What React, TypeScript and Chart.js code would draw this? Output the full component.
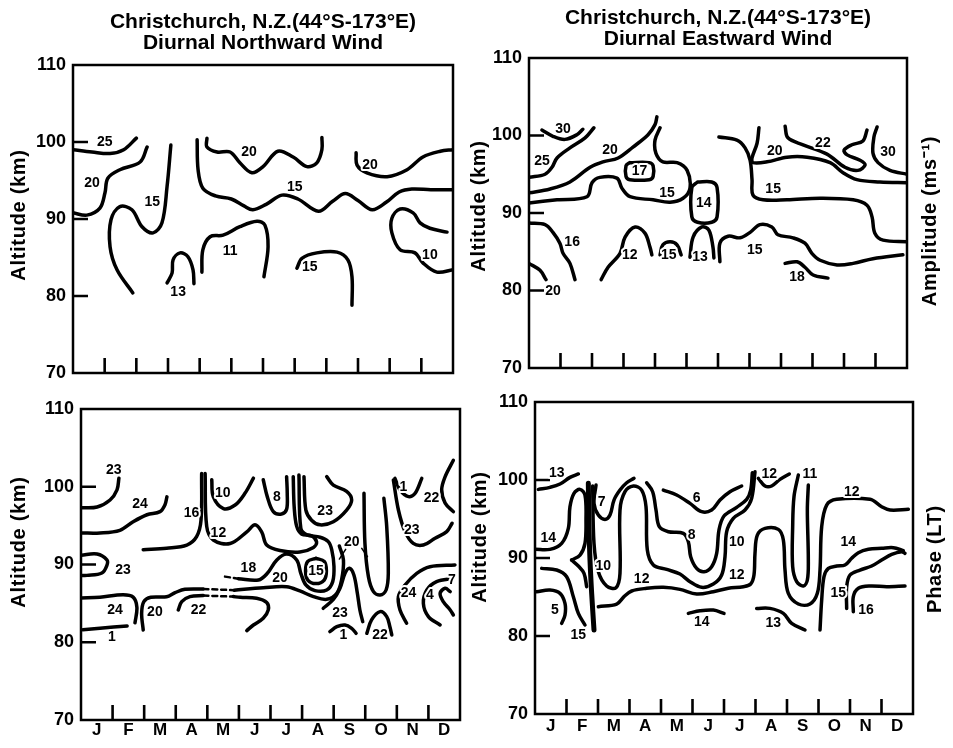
import React, { useEffect, useRef } from "react";
import { Chart, registerables } from "chart.js";

Chart.register(...registerables);

type Pt = [number, number];
type Lbl = [string, number, number];

const FONT = '"Liberation Sans", Arial, sans-serif';
Chart.defaults.font.family = FONT;

const MONTHS = ["J", "F", "M", "A", "M", "J", "J", "A", "S", "O", "N", "D"];
const ALT_TICKS = [70, 80, 90, 100, 110];
const INNER_ALT_TICKS = [80, 90, 100];
const MONTH_BOUNDS = [1, 2, 3, 4, 5, 6, 7, 8, 9, 10, 11];
const TITLE_PLACE = "Christchurch, N.Z.(44°S-173°E)";
const TITLE_NORTH = "Diurnal Northward Wind";
const TITLE_EAST = "Diurnal Eastward Wind";

// ---------- Top-left: northward wind amplitude ----------
const TL_25: Pt[] = [[0, 99.0], [0.6, 98.7], [1.17, 98.5], [1.6, 99.0], [2.0, 100.5]];
const TL_20A: Pt[] = [[2.34, 99.35], [2.12, 97.4], [1.48, 96.4], [1.1, 95.3], [1.01, 93.4], [0.85, 91.4], [0.44, 90.5], [0, 90.8]];
const TL_15A: Pt[] = [[3.09, 99.6], [2.97, 94.2], [2.81, 89.5], [2.53, 88.2], [2.18, 89.0], [1.86, 91.2], [1.48, 91.6], [1.2, 89.9], [1.17, 86.4], [1.39, 83.4], [1.89, 80.4]];
const TL_15B: Pt[] = [[3.92, 100.3], [3.95, 96.4], [4.1, 94.0], [4.5, 93.0], [5.0, 92.6], [5.4, 91.7], [5.68, 91.2], [6.1, 91.9], [6.6, 93.1], [7.1, 92.6], [7.75, 91.0], [8.2, 92.3], [8.6, 93.3], [9.0, 92.4], [9.45, 91.2], [9.9, 92.2], [10.3, 93.5], [10.7, 93.9], [11.3, 93.8], [12.0, 93.8]];
const TL_20B: Pt[] = [[4.23, 100.5], [4.23, 99.35], [4.55, 98.7], [4.96, 98.7], [5.27, 97.3], [5.65, 96.0], [6.0, 96.8], [6.47, 98.8], [6.95, 98.05], [7.39, 96.8], [7.7, 97.3], [7.86, 99.0], [7.86, 100.6]];
const TL_20C: Pt[] = [[8.94, 98.6], [8.97, 97.0], [9.28, 96.0], [9.92, 95.5], [10.55, 96.4], [11.05, 98.05], [11.6, 98.8], [12.0, 99.0]];
const TL_11: Pt[] = [[4.07, 83.1], [4.1, 86.0], [4.33, 87.7], [4.74, 87.9], [5.27, 89.0], [5.81, 89.7], [6.06, 89.2], [6.16, 86.4], [6.03, 82.5]];
const TL_13: Pt[] = [[2.97, 81.7], [3.13, 83.0], [3.16, 84.7], [3.38, 85.6], [3.63, 85.1], [3.79, 83.4], [3.82, 81.6]];
const TL_15C: Pt[] = [[7.07, 83.6], [7.23, 84.9], [7.7, 85.6], [8.34, 85.7], [8.68, 84.7], [8.81, 82.5], [8.81, 78.8]];
const TL_10: Pt[] = [[11.81, 88.3], [11.27, 88.8], [10.96, 89.5], [10.74, 90.8], [10.33, 91.3], [10.07, 90.1], [10.07, 88.2], [10.33, 86.0], [10.8, 85.6], [11.05, 84.3], [11.49, 83.1], [12.0, 83.4]];
const TL_LABELS: Lbl[] = [
  ["25", 1.0, 100.0], ["20", 0.6, 94.7], ["15", 2.5, 92.2], ["15", 7.0, 94.2], ["20", 5.56, 98.7],
  ["20", 9.38, 97.0], ["11", 4.96, 85.8], ["13", 3.32, 80.5], ["15", 7.48, 83.8], ["10", 11.27, 85.3],
];

// ---------- Top-right: eastward wind amplitude ----------
const TR_30A: Pt[] = [[0.41, 100.7], [0.76, 99.9], [1.14, 99.5], [1.52, 100.1], [1.71, 100.8]];
const TR_25: Pt[] = [[0, 94.6], [0.51, 95.0], [0.73, 95.9], [0.89, 97.1], [1.3, 98.4], [1.78, 99.7], [2.06, 101.0]];
const TR_20A: Pt[] = [[0, 92.6], [0.67, 93.1], [1.3, 94.0], [1.94, 95.9], [2.35, 96.6], [2.83, 97.1], [3.3, 98.5], [3.78, 100.1], [4.0, 101.4], [4.06, 102.4]];
const TR_15A: Pt[] = [[0, 91.3], [0.89, 91.7], [1.84, 92.1], [2.0, 93.9], [2.25, 94.6], [2.79, 94.5], [2.95, 93.2], [3.21, 92.1], [3.94, 91.7], [4.48, 91.4], [4.89, 91.9], [5.11, 93.2], [5.02, 95.5], [4.7, 96.5], [4.25, 96.6], [4.03, 97.7], [4.0, 99.4], [4.16, 101.0]];
const TR_17: Pt[] = [[3.2, 96.5], [3.82, 96.5], [3.94, 96.1], [3.94, 94.7], [3.82, 94.3], [3.2, 94.3], [3.08, 94.7], [3.08, 96.1], [3.2, 96.5]];
const TR_14: Pt[] = [[5.35, 94.0], [5.8, 94.0], [5.97, 93.3], [5.97, 89.5], [5.8, 88.8], [5.35, 88.8], [5.17, 89.5], [5.17, 93.3], [5.35, 94.0]];
const TR_16: Pt[] = [[0, 88.7], [0.51, 88.5], [0.76, 87.5], [0.98, 86.1], [1.08, 84.8], [1.3, 83.5], [1.46, 81.4]];
const TR_20B: Pt[] = [[0, 83.5], [0.35, 82.6], [0.54, 81.4]];
const TR_12: Pt[] = [[2.29, 81.4], [2.51, 83.0], [2.89, 84.8], [3.05, 86.9], [3.37, 88.2], [3.68, 87.4], [3.84, 85.6], [3.9, 84.6]];
const TR_15B: Pt[] = [[4.16, 84.6], [4.25, 85.9], [4.48, 86.3], [4.7, 85.9], [4.83, 84.6]];
const TR_13: Pt[] = [[5.11, 84.3], [5.21, 86.9], [5.49, 88.2], [5.71, 87.8], [5.84, 85.6], [5.87, 84.2]];
const TR_15C: Pt[] = [[6.06, 83.7], [6.06, 86.1], [6.32, 87.0], [6.7, 86.8], [7.02, 87.5], [7.33, 88.5], [7.71, 88.2], [7.9, 87.2], [8.38, 86.8], [8.76, 86.1], [8.98, 84.8], [9.24, 83.9], [9.78, 83.3], [10.29, 83.5], [10.92, 84.1], [11.87, 84.6]];
const TR_18: Pt[] = [[8.13, 83.5], [8.51, 83.7], [8.76, 83.0], [9.02, 82.0], [9.49, 81.6]];
const TR_15D: Pt[] = [[6.03, 99.8], [6.6, 99.4], [6.86, 98.4], [7.02, 96.8], [7.08, 94.3], [7.11, 92.3], [7.43, 91.7], [8.19, 91.7], [9.24, 91.9], [10.29, 91.7], [10.73, 91.0], [10.89, 89.5], [10.98, 87.4], [11.24, 86.5], [12.0, 86.3]];
const TR_20C: Pt[] = [[7.3, 101.0], [7.24, 99.0], [7.08, 97.1], [7.11, 96.5], [7.56, 96.6], [8.19, 97.2], [8.83, 97.2], [9.56, 96.5], [9.97, 95.2], [10.41, 94.3], [11.14, 94.0], [12.0, 93.9]];
const TR_22: Pt[] = [[8.13, 101.2], [8.22, 99.7], [8.7, 98.8], [9.46, 97.6], [10.03, 95.9], [10.44, 95.5], [10.67, 96.2], [10.51, 96.8], [10.1, 97.5], [10.0, 98.1], [10.25, 98.8], [10.6, 99.3], [10.73, 100.7]];
const TR_30B: Pt[] = [[11.05, 101.1], [10.95, 99.8], [10.92, 97.7], [11.08, 96.5], [11.46, 95.5], [12.0, 95.0]];
const TR_LABELS: Lbl[] = [
  ["30", 1.08, 100.8], ["25", 0.41, 96.7], ["20", 2.57, 98.1], ["17", 3.51, 95.4], ["15", 4.38, 92.6],
  ["14", 5.55, 91.3], ["16", 1.37, 86.3], ["20", 0.76, 79.9], ["12", 3.2, 84.6], ["15", 4.44, 84.5],
  ["13", 5.43, 84.3], ["15", 7.17, 85.2], ["18", 8.51, 81.7], ["15", 7.75, 93.1], ["20", 7.8, 98.0],
  ["22", 9.33, 99.0], ["30", 11.4, 97.9],
];

// ---------- Bottom-left: northward wind phase ----------
const BL_23A: Pt[] = [[0, 97.3], [0.51, 97.4], [0.92, 98.3], [1.14, 99.6], [1.2, 101.1]];
const BL_24A: Pt[] = [[0, 94.05], [0.6, 94.05], [1.23, 94.4], [1.65, 95.5], [2.09, 96.4], [2.5, 96.8], [2.66, 97.7], [2.72, 98.7]];
const BL_23B: Pt[] = [[0, 91.2], [0.51, 91.35], [0.82, 90.6], [0.82, 89.9], [0.66, 88.9], [0.19, 88.6], [0, 88.6]];
const BL_24B: Pt[] = [[0, 85.7], [0.6, 85.8], [1.33, 86.1], [1.65, 85.8], [1.77, 84.5], [1.71, 82.5]];
const BL_1A: Pt[] = [[0.06, 81.6], [0.6, 81.8], [1.46, 82.1]];
const BL_20A: Pt[] = [[1.97, 81.58], [1.92, 83.72], [1.99, 85.22], [2.21, 85.78], [2.71, 85.86], [2.98, 86.38], [3.29, 86.81], [3.87, 86.85]];
const BL_20A_GAP: Pt[] = [[3.87, 86.85], [4.85, 86.7]];
const BL_20A2: Pt[] = [[4.85, 86.7], [5.77, 87.02], [6.51, 87.15], [6.93, 86.6], [7.36, 85.87], [7.78, 85.52], [8.1, 86.3], [8.25, 88.01], [8.31, 90.58], [8.18, 92.38]];
const BL_22A: Pt[] = [[3.08, 84.15], [3.19, 85.22], [3.45, 85.87], [3.87, 86.0]];
const BL_22A_GAP: Pt[] = [[3.87, 86.0], [4.82, 85.87]];
const BL_22A2: Pt[] = [[4.82, 85.87], [5.04, 85.78], [5.56, 85.65], [5.88, 85.1], [5.93, 84.15], [5.77, 83.08], [5.46, 82.22], [5.25, 81.5]];
const BL_16: Pt[] = [[1.97, 91.9], [2.71, 92.1], [3.35, 92.5], [3.66, 93.58], [3.8, 95.7], [3.82, 101.7]];
const BL_12: Pt[] = [[3.93, 101.7], [3.98, 94.9], [4.19, 93.15], [4.72, 92.7], [5.25, 94.2], [5.51, 95.1], [5.72, 94.2], [5.88, 92.5], [6.3, 91.8], [6.93, 91.6], [7.36, 92.2], [7.46, 92.9], [7.3, 93.7], [6.99, 93.9], [6.83, 94.9], [6.75, 97.4], [6.72, 101.3]];
const BL_10: Pt[] = [[4.14, 100.9], [4.19, 98.7], [4.51, 97.2], [4.88, 97.65], [5.19, 99.15], [5.46, 101.1]];
const BL_8: Pt[] = [[5.77, 100.9], [5.9, 98.7], [6.09, 96.8], [6.35, 96.5], [6.51, 97.1], [6.53, 99.15], [6.51, 101.3]];
const BL_23C: Pt[] = [[7.06, 101.3], [7.12, 97.0], [7.3, 95.7], [7.57, 95.1], [7.99, 95.5], [8.41, 97.0], [8.57, 98.3], [8.41, 99.4], [7.99, 100.2], [7.78, 101.3]];
const BL_18_GAP: Pt[] = [[4.56, 88.44], [4.98, 88.18]];
const BL_18: Pt[] = [[4.98, 88.18], [5.62, 88.01], [5.9, 88.87], [6.2, 90.58], [6.51, 91.35], [6.83, 90.58], [6.96, 88.87], [7.12, 87.37], [7.41, 86.64], [7.78, 86.72], [7.97, 87.8], [8.01, 89.72], [7.94, 91.87], [7.83, 92.94], [7.57, 93.5], [7.15, 93.8], [6.96, 94.65], [6.9, 101.51]];
const BL_15: Pt[] = [[7.44, 90.8], [7.7, 90.4], [7.77, 89.2], [7.7, 88.0], [7.44, 87.55], [7.18, 88.0], [7.11, 89.2], [7.18, 90.4], [7.44, 90.8]];
const BL_23D: Pt[] = [[7.67, 84.37], [7.99, 85.5], [8.2, 86.94], [8.36, 88.87], [8.5, 89.51], [8.64, 88.65], [8.75, 86.3], [8.83, 84.15], [8.92, 82.65]];
const BL_U: Pt[] = [[8.96, 99.15], [8.99, 92.72], [9.1, 88.44], [9.26, 86.51], [9.47, 86.08], [9.66, 86.72], [9.73, 88.87], [9.68, 94.87], [9.59, 98.51]];
const BL_1B: Pt[] = [[7.88, 81.37], [8.1, 82.0], [8.36, 82.22], [8.57, 81.79], [8.71, 81.15]];
const BL_22B: Pt[] = [[9.05, 81.15], [9.2, 82.87], [9.47, 83.94], [9.68, 83.3], [9.78, 82.0], [9.84, 80.94]];
const BL_23E: Pt[] = [[9.89, 100.87], [10.05, 97.01], [10.26, 94.23], [10.52, 92.72], [10.84, 92.51], [11.21, 93.37], [11.58, 94.23], [11.75, 95.3]];
const BL_1C: Pt[] = [[9.94, 101.08], [10.1, 99.6], [10.37, 98.73], [10.58, 99.16], [10.79, 101.08]];
const BL_22C: Pt[] = [[11.79, 103.4], [11.53, 101.3], [11.42, 99.6], [11.53, 97.9], [11.79, 96.8]];
const BL_24C: Pt[] = [[11.84, 89.94], [11.05, 89.72], [10.63, 88.87], [10.26, 87.36], [10.05, 85.86], [10.1, 84.15], [10.31, 82.44]];
const BL_4: Pt[] = [[11.79, 88.2], [11.26, 87.8], [10.95, 86.72], [10.84, 85.0], [11.0, 83.3], [11.37, 82.22]];
const BL_7: Pt[] = [[11.69, 86.51], [11.53, 86.94], [11.37, 86.3], [11.47, 85.22], [11.69, 84.15], [11.79, 83.51]];
const BL_LEAD1: Pt[] = [[8.38, 91.95], [8.18, 90.7]];
const BL_LEAD2: Pt[] = [[8.89, 92.08], [9.07, 91.0]];
const BL_LABELS: Lbl[] = [
  ["23", 1.04, 102.2], ["24", 1.87, 97.7], ["16", 3.5, 96.6], ["10", 4.49, 99.15], ["8", 6.2, 98.7],
  ["23", 7.73, 96.8], ["1", 10.21, 100.0], ["22", 11.1, 98.5], ["12", 4.35, 94.0], ["23", 10.47, 94.44],
  ["20", 8.57, 92.94], ["18", 5.3, 89.5], ["20", 6.3, 88.22], ["15", 7.44, 89.2], ["23", 1.33, 89.3],
  ["24", 1.08, 84.1], ["20", 2.34, 83.9], ["22", 3.72, 84.15], ["1", 0.98, 80.7], ["23", 8.2, 83.72],
  ["1", 8.31, 80.94], ["22", 9.47, 80.94], ["24", 10.37, 86.29], ["4", 11.05, 86.08], ["7", 11.74, 88.0],
];

// ---------- Bottom-right: eastward wind phase ----------
const BR_13: Pt[] = [[0.106, 98.8], [0.476, 99.06], [0.794, 99.48], [1.11, 100.34], [1.376, 100.77]];
const BR_14: Pt[] = [[0, 91.11], [0.476, 91.11], [0.847, 91.88], [1.058, 93.8], [1.11, 96.58], [1.238, 98.29], [1.429, 98.8], [1.587, 98.07], [1.619, 94.87], [1.587, 91.88], [1.429, 90.38], [1.164, 89.74]];
const BR_CUSP: Pt[] = [[1.164, 89.74], [1.376, 88.97], [1.556, 88.03], [1.64, 86.32]];
const BR_5: Pt[] = [[0.053, 85.68], [0.476, 85.89], [0.794, 85.47], [0.952, 84.18], [0.952, 82.69], [0.847, 81.62]];
const BR_15A: Pt[] = [[0.212, 88.67], [0.688, 88.46], [1.005, 87.6], [1.217, 85.04], [1.376, 82.9], [1.587, 81.41]];
const BR_FEB: Pt[] = [[1.693, 99.57], [1.714, 94.01], [1.746, 89.74], [1.799, 85.47], [1.873, 80.77]];
const BR_7: Pt[] = [[1.937, 99.35], [1.873, 97.0], [2.011, 95.5], [2.222, 94.95], [2.381, 95.5], [2.508, 97.43], [2.698, 98.71], [2.91, 99.65], [3.143, 100.21]];
const BR_10: Pt[] = [[1.831, 99.23], [1.873, 91.88], [2.011, 88.24], [2.275, 86.41], [2.571, 86.19], [2.698, 88.03], [2.698, 96.15], [2.857, 98.5], [3.122, 99.23], [3.386, 98.71], [3.524, 96.58], [3.566, 91.02], [3.757, 89.1], [4.18, 88.54], [4.603, 87.94], [4.921, 86.96], [5.291, 86.24], [5.661, 86.66], [5.926, 87.82], [6.032, 90.17], [6.085, 93.37], [6.296, 95.08], [6.667, 96.15], [6.878, 97.65], [6.984, 101.06]];
const BR_8: Pt[] = [[3.545, 99.65], [3.735, 98.5], [3.841, 96.15], [3.947, 94.01], [4.233, 93.37], [4.709, 93.16], [4.868, 92.09], [4.942, 90.17], [5.132, 88.67], [5.365, 88.24], [5.608, 88.89], [5.767, 90.59], [5.841, 93.59], [6.0, 95.38], [6.402, 96.49], [6.72, 97.52], [6.847, 98.71], [6.9, 100.94]];
const BR_6: Pt[] = [[4.074, 98.71], [4.497, 98.07], [4.921, 97.0], [5.291, 95.94], [5.608, 96.15], [5.873, 97.43], [6.19, 98.5], [6.561, 99.23]];
const BR_12: Pt[] = [[2.011, 83.76], [2.593, 84.1], [2.825, 85.04], [3.069, 85.77], [3.545, 86.11], [4.074, 86.24], [4.603, 85.98], [5.132, 85.38], [5.661, 85.68], [6.138, 86.11], [6.614, 86.32], [6.847, 86.66], [6.952, 87.82], [6.984, 90.59], [7.058, 92.94], [7.302, 93.8], [7.725, 93.67], [7.884, 92.3], [7.937, 88.46], [8.042, 85.47], [8.36, 84.1], [8.73, 84.1], [8.963, 85.47], [9.048, 88.46], [9.101, 94.01], [9.259, 96.79], [9.577, 97.52], [10.635, 97.52], [11.005, 96.58], [11.27, 96.15], [11.852, 96.24]];
const BR_12B: Pt[] = [[7.09, 100.21], [7.302, 99.23], [7.513, 99.23], [7.778, 100.08], [8.074, 100.77]];
const BR_11: Pt[] = [[8.36, 100.64], [8.222, 97.86], [8.18, 94.01], [8.18, 88.89], [8.307, 86.96], [8.519, 86.41], [8.646, 87.18], [8.677, 89.74], [8.646, 96.15], [8.677, 99.35]];
const BR_OCT: Pt[] = [[9.048, 80.77], [9.101, 84.61], [9.175, 87.6], [9.312, 88.67], [9.577, 88.97], [9.841, 89.1], [10.053, 89.96], [10.265, 90.68], [10.582, 91.11], [11.005, 91.24], [11.376, 91.32], [11.693, 90.94]];
const BR_15B: Pt[] = [[9.894, 83.54], [9.894, 86.32], [10.0, 87.82], [10.317, 88.46], [10.688, 88.97], [11.005, 89.74], [11.323, 90.47], [11.64, 90.81], [11.746, 90.6]];
const BR_16: Pt[] = [[10.106, 83.12], [10.106, 85.04], [10.265, 86.11], [10.635, 86.41], [11.164, 86.32], [11.746, 86.41]];
const BR_14B: Pt[] = [[4.868, 82.9], [5.238, 83.24], [5.661, 83.33], [6.0, 82.9]];
const BR_13B: Pt[] = [[7.037, 83.54], [7.46, 83.54], [7.884, 82.9], [8.148, 81.62], [8.571, 80.77]];
const BR_LABELS: Lbl[] = [
  ["13", 0.69, 100.85], ["14", 0.423, 92.52], ["5", 0.635, 83.33], ["15", 1.376, 80.1], ["7", 2.116, 97.22],
  ["10", 2.169, 88.97], ["10", 6.402, 92.09], ["8", 4.974, 92.94], ["6", 5.132, 97.65], ["12", 3.386, 87.26],
  ["12", 6.402, 87.82], ["12", 10.053, 98.5], ["12", 7.44, 100.77], ["11", 8.73, 100.77], ["14", 9.947, 92.09],
  ["15", 9.63, 85.47], ["16", 10.508, 83.33], ["14", 5.291, 81.83], ["13", 7.566, 81.7],
];

// ---------- panel configuration ----------
interface Line { pts: Pt[]; kind?: "dash" | "thin" | "heavy"; }
interface AxisTitle { text: string; x: number; y: number; }
interface PanelCfg {
  key: string;
  left: number; top: number; width: number; height: number;
  area: { l: number; t: number; r: number; b: number };
  title?: string[];
  titlePad?: [number, number];
  showMonths: boolean;
  monthPad: number;
  lines: Line[];
  labels: Lbl[];
  axisTitles: AxisTitle[];
}

const solid = (...arrs: Pt[][]): Line[] => arrs.map((pts) => ({ pts }));

const PANELS: PanelCfg[] = [
  {
    key: "tl", left: 0, top: 0, width: 476, height: 385,
    area: { l: 73, t: 65, r: 453, b: 373 },
    title: [TITLE_PLACE, TITLE_NORTH], titlePad: [11.5, 11.5],
    showMonths: false, monthPad: 0,
    lines: solid(TL_25, TL_20A, TL_15A, TL_15B, TL_20B, TL_20C, TL_11, TL_13, TL_15C, TL_10),
    labels: TL_LABELS,
    axisTitles: [{ text: "Altitude (km)", x: 19, y: 215 }],
  },
  {
    key: "tr", left: 466, top: 0, width: 487, height: 385,
    area: { l: 63, t: 58, r: 441, b: 368 },
    title: [TITLE_PLACE, TITLE_EAST], titlePad: [7.5, 8.5],
    showMonths: false, monthPad: 0,
    lines: solid(TR_30A, TR_25, TR_20A, TR_15A, TR_17, TR_14, TR_16, TR_20B, TR_12, TR_15B, TR_13, TR_15C, TR_18, TR_15D, TR_20C, TR_22, TR_30B),
    labels: TR_LABELS,
    axisTitles: [
      { text: "Altitude (km)", x: 13, y: 206 },
      { text: "Amplitude (ms⁻¹)", x: 464, y: 221 },
    ],
  },
  {
    key: "bl", left: 0, top: 385, width: 476, height: 363,
    area: { l: 81, t: 24, r: 460, b: 335 },
    showMonths: true, monthPad: 0,
    lines: [
      ...solid(BL_23A, BL_24A, BL_23B, BL_24B, BL_1A, BL_20A, BL_20A2, BL_22A, BL_22A2, BL_16, BL_12, BL_10, BL_8, BL_23C, BL_18, BL_15, BL_23D, BL_U, BL_1B, BL_22B, BL_23E, BL_1C, BL_22C, BL_24C, BL_4, BL_7),
      { pts: BL_20A_GAP, kind: "dash" },
      { pts: BL_22A_GAP, kind: "dash" },
      { pts: BL_18_GAP, kind: "dash" },
      { pts: BL_LEAD1, kind: "thin" },
      { pts: BL_LEAD2, kind: "thin" },
    ],
    labels: BL_LABELS,
    axisTitles: [{ text: "Altitude (km)", x: 19, y: 157 }],
  },
  {
    key: "br", left: 466, top: 385, width: 487, height: 363,
    area: { l: 69, t: 17, r: 447, b: 329 },
    showMonths: true, monthPad: 2.5,
    lines: [
      ...solid(BR_13, BR_14, BR_CUSP, BR_5, BR_15A, BR_7, BR_10, BR_8, BR_6, BR_12, BR_12B, BR_11, BR_OCT, BR_15B, BR_16, BR_14B, BR_13B),
      { pts: BR_FEB, kind: "heavy" },
    ],
    labels: BR_LABELS,
    axisTitles: [
      { text: "Altitude (km)", x: 14, y: 152 },
      { text: "Phase (LT)", x: 469, y: 174 },
    ],
  },
];

function framePlugin(cfg: PanelCfg) {
  return {
    id: "frame_" + cfg.key,
    afterDraw(chart: any) {
      const { ctx, chartArea: a, scales } = chart;
      const xs = scales.x;
      const ys = scales.y;
      ctx.save();
      ctx.strokeStyle = "#000";
      ctx.lineWidth = 2.5;
      ctx.strokeRect(a.left, a.top, a.right - a.left, a.bottom - a.top);
      ctx.beginPath();
      for (const v of INNER_ALT_TICKS) {
        const y = ys.getPixelForValue(v);
        ctx.moveTo(a.left, y);
        ctx.lineTo(a.left + 15, y);
      }
      for (const m of MONTH_BOUNDS) {
        const x = xs.getPixelForValue(m);
        ctx.moveTo(x, a.bottom);
        ctx.lineTo(x, a.bottom - 15);
      }
      ctx.lineWidth = 2.6;
      ctx.stroke();

      ctx.font = `bold 14px ${FONT}`;
      ctx.textAlign = "center";
      ctx.textBaseline = "middle";
      ctx.lineJoin = "round";
      for (const [t, x, y] of cfg.labels) {
        const px = xs.getPixelForValue(x);
        const py = ys.getPixelForValue(y);
        ctx.lineWidth = 4;
        ctx.strokeStyle = "#fff";
        ctx.strokeText(t, px, py);
        ctx.fillStyle = "#000";
        ctx.fillText(t, px, py);
      }

      ctx.font = `bold 20px ${FONT}`;
      (ctx as any).letterSpacing = "0.7px";
      ctx.fillStyle = "#000";
      for (const t of cfg.axisTitles) {
        ctx.save();
        ctx.translate(t.x, t.y);
        ctx.rotate(-Math.PI / 2);
        ctx.fillText(t.text, 0, 0);
        ctx.restore();
      }
      ctx.restore();
    },
  };
}

function buildChart(canvas: HTMLCanvasElement, cfg: PanelCfg) {
  const { area, width, height } = cfg;
  const datasets = cfg.lines.map((l) => ({
    data: l.pts.map(([x, y]) => ({ x, y })),
    showLine: true,
    pointRadius: 0,
    pointHoverRadius: 0,
    borderColor: "#000",
    borderWidth: l.kind === "thin" ? 1.5 : l.kind === "dash" ? 2.5 : l.kind === "heavy" ? 5 : 3.5,
    borderDash: l.kind === "dash" ? [5, 4] : [],
    tension: 0.35,
    fill: false,
    borderCapStyle: "round" as const,
    borderJoinStyle: "round" as const,
  }));
  return new Chart(canvas, {
    type: "scatter",
    data: { datasets },
    options: {
      responsive: false,
      animation: false,
      devicePixelRatio: 1,
      events: [],
      layout: {
        padding: { left: 0, right: width - area.r, top: cfg.title ? 0 : area.t, bottom: 0 },
      },
      plugins: {
        legend: { display: false },
        tooltip: { enabled: false },
        title: cfg.title
          ? {
              display: true,
              text: cfg.title,
              fullSize: false,
              color: "#000",
              font: { family: FONT, size: 21, weight: "bold", lineHeight: "21px" },
              padding: { top: cfg.titlePad![0], bottom: cfg.titlePad![1] },
            }
          : { display: false },
      },
      scales: {
        x: {
          type: "linear",
          min: 0,
          max: 12,
          grid: { display: false, drawTicks: false },
          border: { display: false },
          afterBuildTicks: (s: any) => {
            s.ticks = MONTHS.map((_m, i) => ({ value: i + 0.5 }));
          },
          ticks: {
            display: cfg.showMonths,
            autoSkip: false,
            maxRotation: 0,
            padding: cfg.monthPad,
            color: "#000",
            font: { family: FONT, size: 17, weight: "bold" },
            callback: (_v: any, i: number) => MONTHS[i],
          },
          afterFit: (s: any) => {
            s.height = height - area.b;
            s.paddingLeft = 0;
            s.paddingRight = 0;
          },
        },
        y: {
          type: "linear",
          min: ALT_TICKS[0],
          max: ALT_TICKS[ALT_TICKS.length - 1],
          grid: { display: false, drawTicks: false },
          border: { display: false },
          afterBuildTicks: (s: any) => {
            s.ticks = ALT_TICKS.map((v) => ({ value: v }));
          },
          ticks: {
            padding: 7,
            color: "#000",
            font: { family: FONT, size: 18, weight: "bold" },
            callback: (v: any) => String(v),
          },
          afterFit: (s: any) => {
            s.width = area.l;
            s.paddingTop = 0;
            s.paddingBottom = 0;
          },
        },
      },
    } as any,
    plugins: [framePlugin(cfg)],
  });
}

function Panel({ cfg }: { cfg: PanelCfg }) {
  const ref = useRef<HTMLCanvasElement | null>(null);
  useEffect(() => {
    if (!ref.current) return;
    const chart = buildChart(ref.current, cfg);
    return () => chart.destroy();
  }, [cfg]);
  return (
    <canvas
      ref={ref}
      width={cfg.width}
      height={cfg.height}
      style={{ position: "absolute", left: cfg.left, top: cfg.top, width: cfg.width, height: cfg.height }}
    />
  );
}

export default function App() {
  return (
    <div style={{ position: "absolute", left: 0, top: 0, width: 953, height: 748, background: "#fff", overflow: "hidden" }}>
      {PANELS.map((p) => (
        <Panel key={p.key} cfg={p} />
      ))}
    </div>
  );
}
